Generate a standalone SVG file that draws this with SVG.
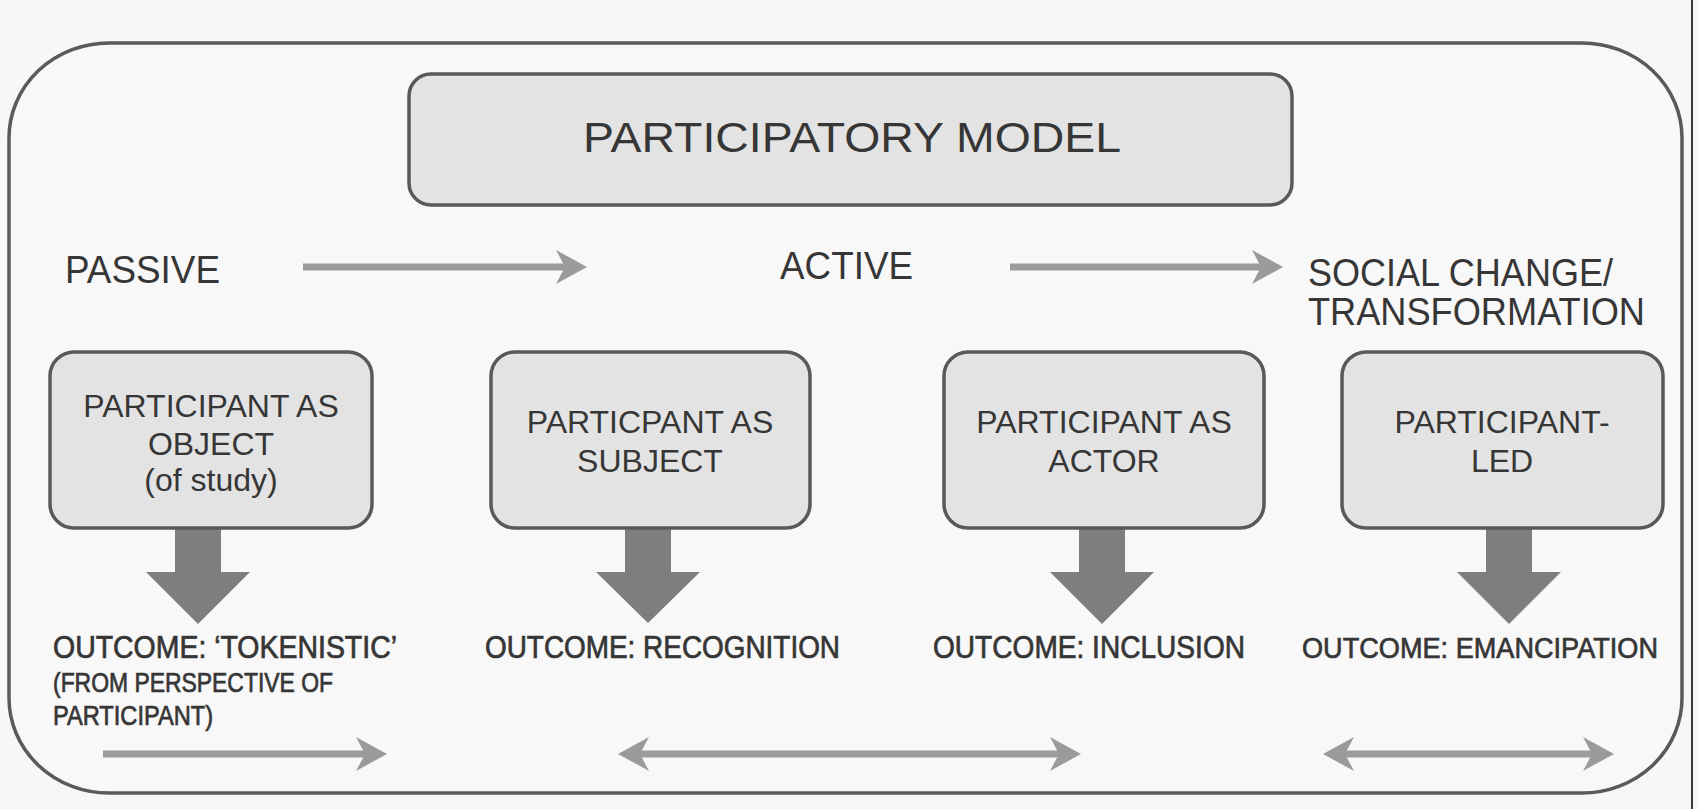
<svg xmlns="http://www.w3.org/2000/svg" width="1698" height="809" viewBox="0 0 1698 809">
<defs>
<style>
.t{font-family:"Liberation Sans",Arial,Helvetica,sans-serif;fill:#363636;}
.o{stroke:#363636;stroke-width:0.7;}
.box{fill:#e3e3e3;stroke:#595959;stroke-width:3.5;}
.conn{stroke:#9b9b9b;stroke-width:7;fill:none;}
.block{fill:#7e7e7e;}
</style>
<marker id="ah" markerUnits="userSpaceOnUse" markerWidth="32" markerHeight="36" viewBox="0 0 32 36" refX="12" refY="18" orient="auto-start-reverse">
<path d="M0,1 L31,18 L0,35 L9,18 Z" fill="#9b9b9b"/>
</marker>
</defs>
<rect x="0" y="0" width="1698" height="809" fill="#f7f7f7"/>
<line x1="1692" y1="0" x2="1692" y2="809" stroke="#3a3a3a" stroke-width="2"/>
<rect id="frame" x="9" y="43" width="1673" height="750" rx="100" ry="95" fill="#f8f8f8" stroke="#5a5a5a" stroke-width="3.5"/>

<g id="connectors">
<line class="conn" x1="303" y1="267" x2="568" y2="267" marker-end="url(#ah)"/>
<line class="conn" x1="1010" y1="267" x2="1264" y2="267" marker-end="url(#ah)"/>
<line class="conn" x1="103" y1="754" x2="368" y2="754" marker-end="url(#ah)"/>
<line class="conn" x1="637" y1="754" x2="1062" y2="754" marker-start="url(#ah)" marker-end="url(#ah)"/>
<line class="conn" x1="1342" y1="754" x2="1595" y2="754" marker-start="url(#ah)" marker-end="url(#ah)"/>
<polygon class="block" points="175,520 221,520 221,572 250,572 198,624 146,572 175,572"/>
<polygon class="block" points="625,520 671,520 671,572 700,572 648,623 596,572 625,572"/>
<polygon class="block" points="1079,520 1125,520 1125,572 1154,572 1102,624 1050,572 1079,572"/>
<polygon class="block" points="1486,520 1532,520 1532,572 1561,572 1509,624 1457,572 1486,572"/>
</g>

<g id="title">
<rect class="box" x="409" y="74" width="883" height="131" rx="22"/>
<text class="t" x="583" y="152" font-size="42" textLength="538" lengthAdjust="spacingAndGlyphs">PARTICIPATORY MODEL</text>
</g>

<g id="passive">
<text class="t" x="65" y="283" font-size="38" textLength="155" lengthAdjust="spacingAndGlyphs">PASSIVE</text>
</g>
<g id="active">
<text class="t" x="780" y="279" font-size="38" textLength="133" lengthAdjust="spacingAndGlyphs">ACTIVE</text>
</g>
<g id="social-change">
<text class="t" x="1308" y="286" font-size="39" textLength="305" lengthAdjust="spacingAndGlyphs">SOCIAL CHANGE/</text>
<text class="t" x="1308" y="325" font-size="39" textLength="337" lengthAdjust="spacingAndGlyphs">TRANSFORMATION</text>
</g>

<g id="box-object">
<rect class="box" x="50" y="352" width="322" height="176" rx="24"/>
<text class="t" x="211" y="417" font-size="32" text-anchor="middle">PARTICIPANT AS</text>
<text class="t" x="211" y="455" font-size="32" text-anchor="middle">OBJECT</text>
<text class="t" x="211" y="491" font-size="32" text-anchor="middle">(of study)</text>
</g>
<g id="box-subject">
<rect class="box" x="491" y="352" width="319" height="176" rx="24"/>
<text class="t" x="650" y="433" font-size="32" text-anchor="middle">PARTICPANT AS</text>
<text class="t" x="650" y="472" font-size="32" text-anchor="middle">SUBJECT</text>
</g>
<g id="box-actor">
<rect class="box" x="944" y="352" width="320" height="176" rx="24"/>
<text class="t" x="1104" y="433" font-size="32" text-anchor="middle">PARTICIPANT AS</text>
<text class="t" x="1104" y="472" font-size="32" text-anchor="middle">ACTOR</text>
</g>
<g id="box-led">
<rect class="box" x="1342" y="352" width="321" height="176" rx="24"/>
<text class="t" x="1502" y="433" font-size="32" text-anchor="middle">PARTICIPANT-</text>
<text class="t" x="1502" y="472" font-size="32" text-anchor="middle">LED</text>
</g>

<g id="outcome-tokenistic">
<text class="t o" x="53" y="658" font-size="31" textLength="344" lengthAdjust="spacingAndGlyphs">OUTCOME: ‘TOKENISTIC’</text>
<text class="t o" x="53" y="692" font-size="27" textLength="280" lengthAdjust="spacingAndGlyphs">(FROM PERSPECTIVE OF</text>
<text class="t o" x="53" y="725" font-size="27" textLength="160" lengthAdjust="spacingAndGlyphs">PARTICIPANT)</text>
</g>
<g id="outcome-recognition">
<text class="t o" x="485" y="658" font-size="31" textLength="355" lengthAdjust="spacingAndGlyphs">OUTCOME: RECOGNITION</text>
</g>
<g id="outcome-inclusion">
<text class="t o" x="933" y="658" font-size="31" textLength="312" lengthAdjust="spacingAndGlyphs">OUTCOME: INCLUSION</text>
</g>
<g id="outcome-emancipation">
<text class="t o" x="1302" y="658" font-size="30" textLength="356" lengthAdjust="spacingAndGlyphs">OUTCOME: EMANCIPATION</text>
</g>
</svg>
